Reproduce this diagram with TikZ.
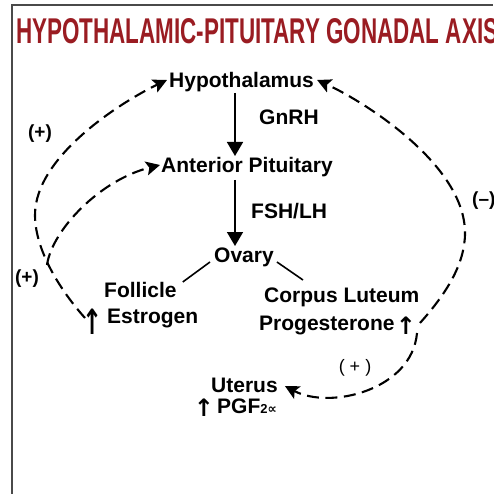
\documentclass[tikz,border=0pt]{standalone}
\usepackage{fontspec}
\setmainfont{Liberation Sans}
\newfontfamily\arrowfont{DejaVu Sans}
\usetikzlibrary{arrows.meta,calc}
\definecolor{titlered}{HTML}{9A1C22}
\definecolor{framegray}{HTML}{4A4A4A}
\begin{document}
\begin{tikzpicture}[x=1pt,y=-1pt,
  lbl/.style={font=\fontsize{21}{24}\selectfont\bfseries, inner sep=0pt, anchor=base west},
  sign/.style={font=\fontsize{19}{22}\selectfont\bfseries, inner sep=0pt},
  uparr/.style={font=\arrowfont\bfseries\fontsize{24}{26}\selectfont, inner sep=0pt, anchor=south},
  fb/.style={line width=2.1pt, dash pattern=on 12pt off 6.5pt, -{Stealth[length=14pt,width=14pt,inset=3pt]}},
  sarr/.style={line width=1.6pt, -{Triangle[length=14pt,width=16pt]}},
  link/.style={line width=1.6pt}]
\useasboundingbox (0,0) rectangle (493,494);
\fill[white] (0,0) rectangle (493,494);
\draw[line width=2.4pt, framegray] (12,494) -- (12,5) -- (493,5);
\node[anchor=west, inner sep=0pt, text=titlered] (title) at (16,31) {\resizebox{482pt}{25pt}{\bfseries HYPOTHALAMIC-PITUITARY GONADAL AXIS}};
% labels
\node[lbl] (hyp) at (169,88) {Hypothalamus};
\node[lbl] (gnrh) at (259,125) {GnRH};
\node[lbl] (ant) at (161,172) {Anterior Pituitary};
\node[lbl] (fsh) at (251,218) {FSH/LH};
\node[lbl] (ov) at (214,262) {Ovary};
\node[lbl] (fol) at (104,297) {Follicle};
\node[lbl] (est) at (107,323) {Estrogen};
\node[lbl] (cl) at (264,302) {Corpus Luteum};
\node[lbl] (prog) at (259,330) {Progesterone};
\node[lbl] (ut) at (211,392) {Uterus};
\node[lbl] (pgf) at (217,413) {PGF{\fontsize{13}{13}\selectfont 2{\arrowfont\bfseries ∝}}};
% up arrows
\node[uparr] (estup) at (93,335) {\scalebox{1}[1.45]{↑}};
\node[uparr] (progup) at (406,335) {↑};
\node[uparr] (pgfup) at (204,417) {↑};
% signs
\node[sign] (p1) at (40,134) {(+)};
\node[sign] (p2) at (27,279) {(+)};
\node[sign, anchor=west] (m1) at (472,201) {(–)};
\node[font=\fontsize{18}{20}\selectfont, inner sep=0pt] (p3) at (355,368) {( + )};
% solid arrows
\draw[sarr] ($(hyp.base west)+(66,5)$) -- ($(ant.base west)+(74,-16)$);
\draw[sarr] ($(ant.base west)+(74,8)$) -- ($(ov.base west)+(21,-16)$);
\draw[link] ($(ov.base west)+(-4,0)$) -- ($(fol.base east)+(6,-15)$);
\draw[link] ($(ov.base east)+(3,0)$) -- ($(cl.base west)+(39,-22)$);
% feedback loops
\coordinate (estfoot) at ($(est.base west)+(-22,-5)$);
\coordinate (branch) at (47,265);
\coordinate (progfoot) at ($(progup.south)+(14,-12)$);
\coordinate (progfoot2) at ($(progup.south)+(11,-2)$);
\draw[fb] (estfoot) .. controls (60,290) and (35,250) .. (35,215)
  .. controls (35,155) and (125,100) .. ($(hyp.base west)+(-2,-8)$);
\draw[fb] (branch) .. controls (52,230) and (100,180) .. ($(ant.base west)+(-1,-7)$);
\draw[fb] (progfoot) .. controls (445,295) and (465,265) .. (465,233)
  .. controls (465,165) and (365,102) .. ($(hyp.base east)+(3,-8)$);
\draw[fb] (progfoot2) .. controls (412,390) and (330,410) .. ($(ut.base east)+(7,-6)$);
\end{tikzpicture}
\end{document}
